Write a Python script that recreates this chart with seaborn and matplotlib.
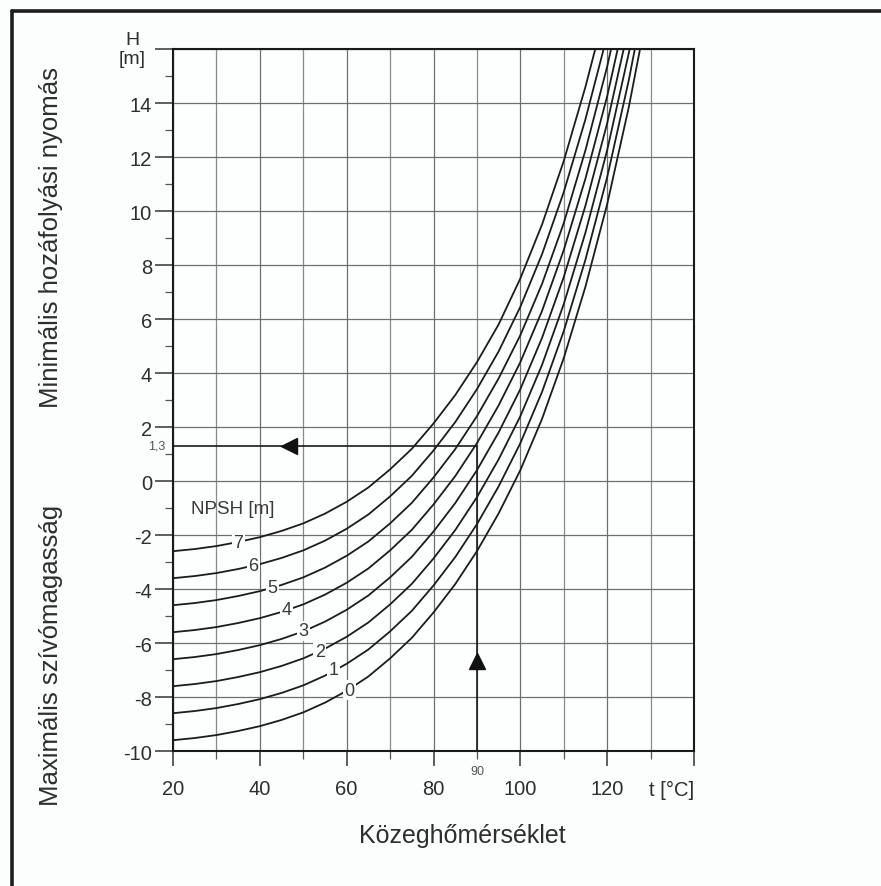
import matplotlib
matplotlib.use("Agg")
import matplotlib.pyplot as plt
from matplotlib.lines import Line2D
import seaborn as sns
import pandas as pd

# ---------------- data ----------------
temps = [20, 25, 30, 35, 40, 45, 50, 55, 60, 65, 70, 75, 80, 85, 90, 95, 100, 105, 110, 115, 120, 125, 130]

npsh_0 = [-9.60, -9.52, -9.41, -9.26, -9.08, -8.85, -8.57, -8.21, -7.77, -7.24, -6.57, -5.81, -4.87, -3.82, -2.60, -1.20, 0.40, 2.30, 4.55, 7.20, 10.25, 13.86, 18.02]
npsh_1 = [-8.60, -8.52, -8.41, -8.26, -8.08, -7.85, -7.57, -7.21, -6.77, -6.24, -5.57, -4.81, -3.87, -2.82, -1.60, -0.20, 1.40, 3.30, 5.55, 8.20, 11.25, 14.86, 19.02]
npsh_2 = [-7.60, -7.52, -7.41, -7.26, -7.08, -6.85, -6.57, -6.21, -5.77, -5.24, -4.57, -3.81, -2.87, -1.82, -0.60, 0.80, 2.40, 4.30, 6.55, 9.20, 12.25, 15.86, 20.02]
npsh_3 = [-6.60, -6.52, -6.41, -6.26, -6.08, -5.85, -5.57, -5.21, -4.77, -4.24, -3.57, -2.81, -1.87, -0.82, 0.40, 1.80, 3.40, 5.30, 7.55, 10.20, 13.25, 16.86, 21.02]
npsh_4 = [-5.60, -5.52, -5.41, -5.26, -5.08, -4.85, -4.57, -4.21, -3.77, -3.24, -2.57, -1.81, -0.87, 0.18, 1.40, 2.80, 4.40, 6.30, 8.55, 11.20, 14.25, 17.86, 22.02]
npsh_5 = [-4.60, -4.52, -4.41, -4.26, -4.08, -3.85, -3.57, -3.21, -2.77, -2.24, -1.57, -0.81, 0.13, 1.18, 2.40, 3.80, 5.40, 7.30, 9.55, 12.25, 15.35, 18.95, 23.10]
npsh_6 = [-3.60, -3.52, -3.41, -3.26, -3.08, -2.85, -2.57, -2.21, -1.77, -1.24, -0.57, 0.19, 1.13, 2.18, 3.40, 4.80, 6.45, 8.40, 10.70, 13.40, 16.50, 20.10, 24.20]
npsh_7 = [-2.60, -2.52, -2.41, -2.26, -2.08, -1.85, -1.57, -1.21, -0.77, -0.24, 0.43, 1.19, 2.13, 3.18, 4.40, 5.80, 7.50, 9.50, 11.85, 14.60, 17.70, 21.30, 25.40]

curve_names = ["0", "1", "2", "3", "4", "5", "6", "7"]
curves = [npsh_0, npsh_1, npsh_2, npsh_3, npsh_4, npsh_5, npsh_6, npsh_7]

label_t = [60.7, 56.9, 53.8, 50.0, 46.1, 42.9, 38.5, 35.0]
label_h = [-7.75, -6.99, -6.33, -5.55, -4.76, -3.93, -3.13, -2.28]

x_major = [20, 40, 60, 80, 100, 120, 140]
x_major_labels = ["20", "40", "60", "80", "100", "120", ""]
x_minor = [30, 50, 70, 90, 110, 130]
y_major = [-10, -8, -6, -4, -2, 0, 2, 4, 6, 8, 10, 12, 14, 16]
y_major_labels = ["-10", "-8", "-6", "-4", "-2", "0", "2", "4", "6", "8", "10", "12", "14", ""]
y_minor = [-9, -7, -5, -3, -1, 1, 3, 5, 7, 9, 11, 13, 15]

example_t = 90
example_h = 1.3
arrow_left_t = 46.7
arrow_up_h = -6.68

# ---------------- plot ----------------
sns.set_theme(style="white")
plt.rcParams["font.family"] = ["Liberation Sans", "DejaVu Sans"]
plt.rcParams["axes.unicode_minus"] = False

TXT = "#2e2e2e"
W, H = 881, 887
fig = plt.figure(figsize=(W / 100, H / 100), dpi=100, facecolor="#fcfdfd")
ax = fig.add_axes([173 / W, 1 - 752 / H, (694 - 173) / W, (752 - 50) / H])
ax.set_facecolor("#fdfefe")

rows = []
for name, vals in zip(curve_names, curves):
    for t, h in zip(temps, vals):
        rows.append({"t": t, "H": h, "NPSH": name})
df = pd.DataFrame(rows)

sns.lineplot(data=df, x="t", y="H", hue="NPSH", palette=["#1c1c1c"] * 8,
             estimator=None, sort=False, legend=False, linewidth=1.3, ax=ax, zorder=3)
for ln in ax.lines:
    ln.set_solid_joinstyle("round")

ax.set_xlim(20, 140)
ax.set_ylim(-10, 16)
ax.set_xlabel("")
ax.set_ylabel("")

ax.set_xticks(x_major)
ax.set_xticklabels(x_major_labels)
ax.set_xticks(x_minor, minor=True)
ax.set_yticks(y_major)
ax.set_yticklabels(y_major_labels)
ax.set_yticks(y_minor, minor=True)

ax.grid(True, which="major", color="#6f6f6f", linewidth=0.9, zorder=1)
ax.grid(True, which="minor", axis="x", color="#8a8a8a", linewidth=0.9, zorder=1)

ax.tick_params(axis="y", which="major", length=13, width=1.1, color="#333333",
               labelsize=14.5, labelcolor=TXT, pad=2, left=True)
ax.tick_params(axis="y", which="minor", length=6, width=0.9, color="#555555", left=True)
ax.tick_params(axis="x", which="major", length=11, width=1.1, color="#333333",
               labelsize=14.5, labelcolor=TXT, pad=9, bottom=True)
ax.tick_params(axis="x", which="minor", length=6, width=0.9, color="#555555", bottom=True)

for s in ax.spines.values():
    s.set_visible(True)
    s.set_color("#1a1a1a")
    s.set_linewidth(1.5)

# example construction lines with arrows
ax.plot([20, example_t], [example_h, example_h], color="#1a1a1a", lw=1.2, zorder=4)
ax.plot([example_t, example_t], [-10, example_h], color="#1a1a1a", lw=1.2, zorder=4)
ax.plot([arrow_left_t], [example_h], marker="<", color="#111111", markersize=11, zorder=5)
ax.plot([example_t], [arrow_up_h], marker="^", color="#111111", markersize=11, zorder=5)

# curve labels
for name, t, h in zip(curve_names, label_t, label_h):
    ax.text(t, h, name, fontsize=13, color="#3a3a3a", ha="center", va="center", zorder=6,
            bbox=dict(boxstyle="square,pad=0.08", fc="#fdfefe", ec="none"))

ax.text(33.7, -1.0, "NPSH [m]", fontsize=13.5, color="#3a3a3a", ha="center", va="center", zorder=6)

# small labels
ax.text(-0.015, example_h, "1,3", transform=ax.get_yaxis_transform(), fontsize=9,
        color="#555555", ha="right", va="center")
ax.text(example_t, -0.028, "90", transform=ax.get_xaxis_transform(), fontsize=9,
        color="#555555", ha="center", va="center")
ax.text(140, -0.055, "t [°C]", transform=ax.get_xaxis_transform(), fontsize=14.5,
        color=TXT, ha="right", va="center")

fig.text(132 / W, 1 - 50 / H, "H\n[m]", fontsize=14, color=TXT, ha="center", va="center",
         multialignment="center", linespacing=1.2)

# axis titles
fig.text(462 / W, 1 - 843 / H, "Közeghőmérséklet", fontsize=18, color=TXT,
         ha="center", va="baseline")
fig.text(51 / W, 1 - 238 / H, "Minimális hozáfolyási nyomás", fontsize=18.5, color=TXT,
         rotation=90, ha="center", va="center")
fig.text(51 / W, 1 - 655 / H, "Maximális szívómagasság", fontsize=18.5, color=TXT,
         rotation=90, ha="center", va="center")

# outer frame (left and top edges)
fig.add_artist(Line2D([12 / W, 12 / W], [0, 1 - 12 / H], transform=fig.transFigure,
                      color="#1e1e1e", lw=2.6))
fig.add_artist(Line2D([12 / W, 1], [1 - 12 / H, 1 - 12 / H], transform=fig.transFigure,
                      color="#1e1e1e", lw=2.6))

fig.savefig("out.png", dpi=100, facecolor=fig.get_facecolor())
